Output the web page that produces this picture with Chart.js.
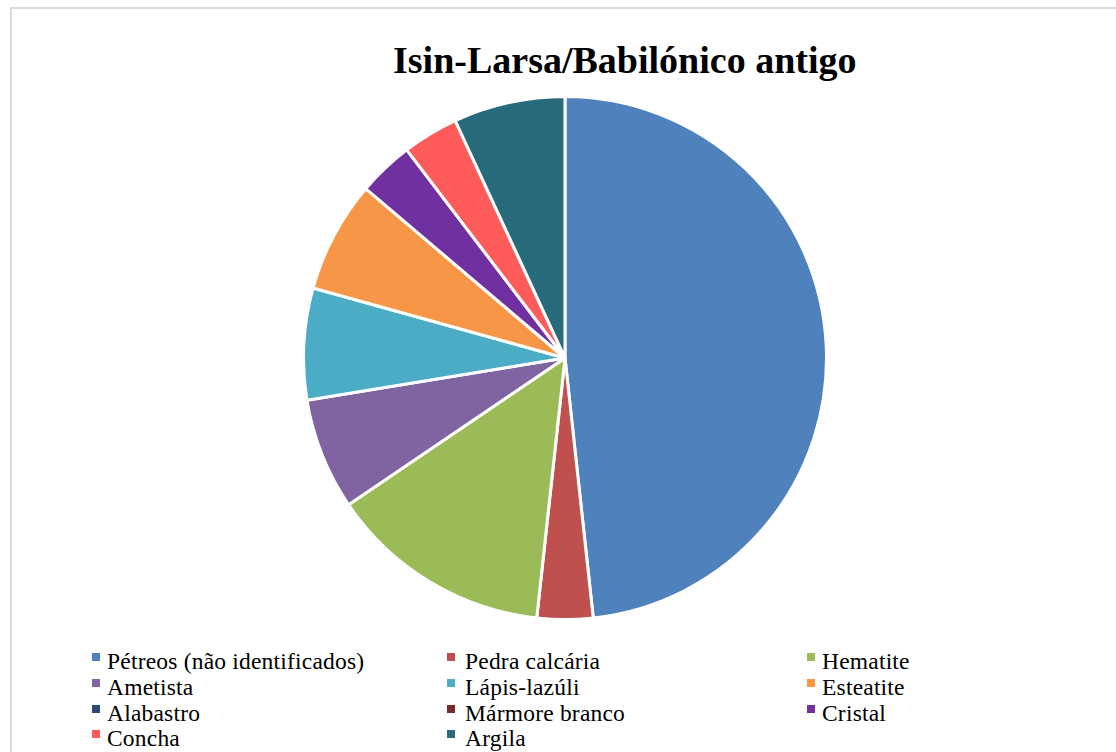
<!DOCTYPE html>
<html lang="pt">
<head>
<meta charset="utf-8">
<title>Isin-Larsa/Babilónico antigo</title>
<script src="https://cdn.jsdelivr.net/npm/chart.js@4/dist/chart.umd.min.js"></script>
<style>
  html, body { margin: 0; padding: 0; background: #fff; width: 1116px; height: 752px; overflow: hidden; }
  #frame { position: absolute; left: 10px; top: 7px; width: 1200px; height: 800px; border: 2px solid #d9d9d9; box-sizing: border-box; }
  #title { position: absolute; left: 0; top: 0; width: 1116px; }
  #title span { position: absolute; left: 393px; top: 36px; font: bold 38px "Liberation Serif", "Times New Roman", serif; color: #000; white-space: nowrap; line-height: 48px; }
  #pieBox { position: absolute; left: 302px; top: 95px; width: 526px; height: 526px; }
  .item { position: absolute; height: 26px; white-space: nowrap; }
  .item i { position: absolute; left: 0; top: 4px; width: 8px; height: 8px; }
  .item span { position: absolute; top: 0; font-family: "Liberation Serif", "Times New Roman", serif; font-size: 23.5px; letter-spacing: 0.2px; line-height: 25.7px; color: #000; }
</style>
</head>
<body>
<div id="frame"></div>
<div id="title"><span>Isin-Larsa/Babilónico antigo</span></div>
<div id="pieBox"><canvas id="pie"></canvas></div>
<div id="legend"></div>
<script>
// Materials and number of objects per material
const materials = [
  'Pétreos (não identificados)', 'Pedra calcária', 'Hematite',
  'Ametista', 'Lápis-lazúli', 'Esteatite',
  'Alabastro', 'Mármore branco', 'Cristal',
  'Concha', 'Argila'
];
const counts = [14, 1, 4, 2, 2, 2, 0, 0, 1, 1, 2];
const sliceColors = [
  '#4F81BD', '#C0504D', '#9BBB59',
  '#8064A2', '#4BACC6', '#F79646',
  '#2C4D75', '#772C2A', '#7030A0',
  '#FF5B5B', '#276A7C'
];

new Chart(document.getElementById('pie'), {
  type: 'pie',
  data: {
    labels: materials,
    datasets: [{
      data: counts,
      backgroundColor: sliceColors,
      borderColor: '#ffffff',
      borderWidth: 3,
      hoverOffset: 0
    }]
  },
  options: {
    responsive: true,
    maintainAspectRatio: false,
    animation: false,
    layout: { padding: 0 },
    plugins: {
      legend: { display: false },
      tooltip: { enabled: false }
    }
  }
});

// Three-column legend below the pie
const legendEl = document.getElementById('legend');
const colX = [92, 447, 807];
const textOffset = [15, 18, 15];
materials.forEach((name, i) => {
  const col = i % 3, row = Math.floor(i / 3);
  const item = document.createElement('div');
  item.className = 'item';
  item.style.left = colX[col] + 'px';
  item.style.top = (649.3 + row * 25.7) + 'px';
  const sw = document.createElement('i');
  sw.style.background = sliceColors[i];
  const tx = document.createElement('span');
  tx.style.left = textOffset[col] + 'px';
  tx.textContent = name;
  item.appendChild(sw);
  item.appendChild(tx);
  legendEl.appendChild(item);
});
</script>
</body>
</html>
